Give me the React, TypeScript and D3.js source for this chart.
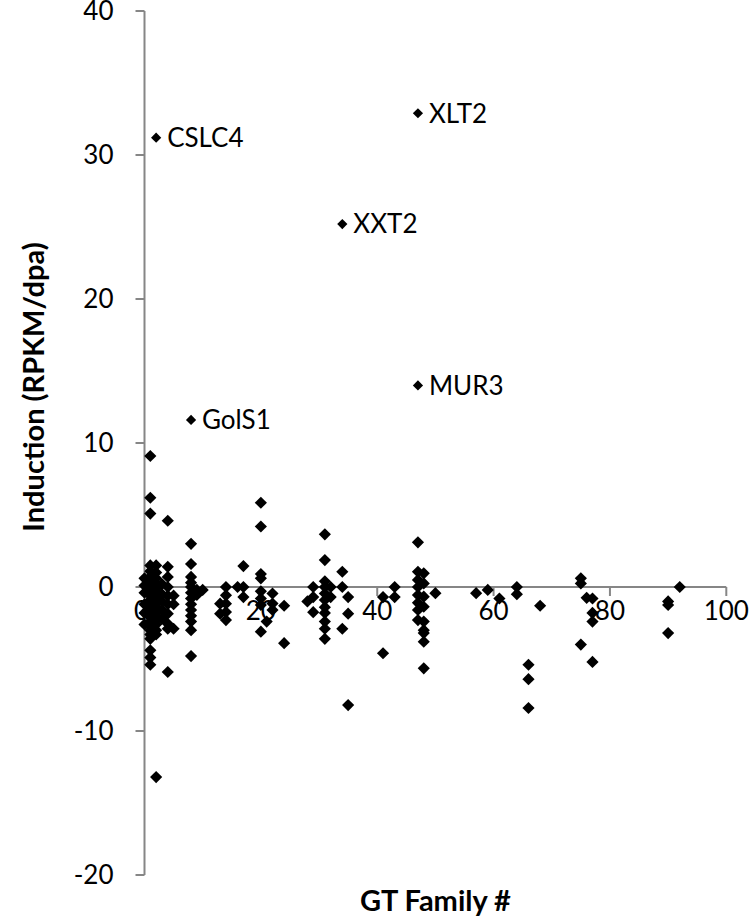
import React from "react";
import * as d3 from "d3";

// GT family number for every gene (x) and its induction in RPKM/dpa (y)
const gtFamily = [
  0, 0, 0, 0, 0, 0,
  1, 1, 1, 1, 1, 1, 1, 1, 1, 1, 1, 1, 1, 1, 1, 1, 1, 1, 1, 1, 1, 1, 1,
  2, 2, 2, 2, 2, 2, 2, 2, 2, 2, 2, 2, 2, 2, 2, 2,
  3, 3, 3, 3, 3,
  4, 4, 4, 4, 4, 4, 4, 4, 4, 4,
  5, 5, 5,
  8, 8, 8, 8, 8, 8, 8, 8, 8, 8, 8, 8, 8,
  9, 9, 10, 13, 13,
  14, 14, 14, 14, 14,
  16, 17, 17, 17,
  20, 20, 20, 20, 20, 20, 20, 20,
  21, 22, 22, 22, 24, 24, 28, 29, 29, 29,
  31, 31, 31, 31, 31, 31, 31, 31, 31, 31, 31,
  32, 32, 34, 34, 34, 35, 35, 35,
  41, 41, 43, 43,
  47, 47, 47, 47, 47, 47, 47, 47,
  48, 48, 48, 48, 48, 48, 48, 48, 48,
  50, 57, 59, 61, 64, 64, 66, 66, 66, 68,
  75, 75, 75, 76, 77, 77, 77, 77,
  90, 90, 90, 92,
];
const induction = [
  0.6, 0.1, -0.4, -1.2, -1.8, -2.6,
  9.1, 6.2, 5.1, 1.5, 1.1, 0.7, 0.3, 0.0, -0.3, -0.6, -0.9, -1.2, -1.5, -1.8, -2.1, -2.4, -2.7, -3.0, -3.3, -3.6, -4.4, -4.9, -5.4,
  1.5, 1.0, 0.6, 0.2, -0.1, -0.4, -0.8, -1.1, -1.4, -1.7, -2.0, -2.3, -2.6, -3.0, -3.3, -13.2,
  0.2, -0.5, -1.0, -1.6, -2.2,
  4.6, 1.4, 0.7, 0.0, -0.6, -1.2, -1.85, -2.55, -2.9, -5.9,
  -1.2, -2.9, -0.6,
  3.0, 1.6, 0.7, 0.3, 0.0, -0.4, -0.8, -1.2, -1.6, -2.0, -2.4, -3.0, -4.8,
  -0.55, -0.2, -0.2, -1.16, -1.85,
  0.0, -0.58, -1.16, -1.74, -2.3,
  0.0, 1.45, 0.0, -0.7,
  5.85, 4.2, 0.9, 0.6, -0.3, -0.8, -1.25, -3.1,
  -2.4, -0.45, -1.15, -1.6, -1.3, -3.9, -1.0, 0.0, -0.7, -1.75,
  3.66, 1.87, 0.4, 0.0, -0.45, -0.9, -1.4, -1.8, -2.4, -2.9, -3.6,
  0.0, -0.7, 1.06, 0.0, -2.9, -0.7, -1.85, -8.2,
  -0.7, -4.6, 0.0, -0.7,
  3.1, 1.06, 0.49, 0.0, -0.56, -1.1, -1.6, -2.3,
  0.95, 0.25, -0.67, -1.37, -2.4, -3.0, -3.2, -3.8, -5.65,
  -0.43, -0.43, -0.2, -0.8, 0.0, -0.5, -5.4, -6.4, -8.4, -1.3,
  0.6, 0.25, -4.0, -0.75, -0.8, -1.8, -2.4, -5.2,
  -1.0, -1.25, -3.2, 0.0,
];

// annotated genes
const labelNames = ["CSLC4", "XLT2", "XXT2", "MUR3", "GolS1"];
const labelFamily = [2, 47, 34, 47, 8];
const labelInduction = [31.2, 32.9, 25.2, 14.0, 11.6];

const xTicks = [0, 20, 40, 60, 80, 100];
const yTicks = [-20, -10, 0, 10, 20, 30, 40];

export default function App() {
  const W = 750;
  const H = 923;
  const x = d3.scaleLinear().domain([0, 100]).range([144.5, 726.3]);
  const y = d3.scaleLinear().domain([-20, 40]).range([875, 11]);
  const axisColor = "#868686";
  const font = "Lato, 'Open Sans', sans-serif";
  const tickSize = 26;
  const bigMarker = d3.symbol().type(d3.symbolSquare).size(74)() as string;
  const smallMarker = d3.symbol().type(d3.symbolSquare).size(52)() as string;
  const y0 = y(0);
  const xLeft = x(0);

  return (
    <svg
      width={W}
      height={H}
      viewBox={`0 0 ${W} ${H}`}
      style={{ position: "absolute", left: 0, top: 0, background: "#fff" }}
    >
      {/* Y axis */}
      <line x1={xLeft} x2={xLeft} y1={y(40)} y2={y(-20)} stroke={axisColor} strokeWidth={2} />
      {yTicks.map((t) => (
        <g key={"yt" + t}>
          <line x1={xLeft - 9} x2={xLeft} y1={y(t)} y2={y(t)} stroke={axisColor} strokeWidth={2} />
          <text
            x={xLeft - 31}
            y={y(t) + tickSize * 0.36}
            textAnchor="end"
            fontFamily={font}
            fontSize={tickSize}
            fill="#000"
          >
            {t}
          </text>
        </g>
      ))}
      {/* X axis */}
      <line x1={xLeft} x2={x(100)} y1={y0} y2={y0} stroke={axisColor} strokeWidth={2} />
      {xTicks.map((t) => (
        <line key={"xt" + t} x1={x(t)} x2={x(t)} y1={y0} y2={y0 + 9} stroke={axisColor} strokeWidth={2} />
      ))}
      {/* points */}
      {gtFamily.map((f, i) => (
        <path
          key={"p" + i}
          d={bigMarker}
          transform={`translate(${x(f)},${y(induction[i])}) rotate(45)`}
          fill="#000"
        />
      ))}
      {labelNames.map((n, i) => (
        <g key={"l" + n}>
          <path
            d={smallMarker}
            transform={`translate(${x(labelFamily[i])},${y(labelInduction[i])}) rotate(45)`}
            fill="#000"
          />
          <text
            x={x(labelFamily[i]) + 11}
            y={y(labelInduction[i]) + 26 * 0.36}
            fontFamily={font}
            fontSize={26}
            fill="#000"
          >
            {n}
          </text>
        </g>
      ))}
      {/* x tick labels drawn above points like the original */}
      {xTicks.map((t) => (
        <text
          key={"xl" + t}
          x={x(t) - (t === 0 ? 3 : 0)}
          y={y0 + 33}
          textAnchor="middle"
          fontFamily={font}
          fontSize={tickSize}
          fill="#000"
        >
          {t}
        </text>
      ))}
      {/* axis titles */}
      <text
        transform={`translate(44,${(y(40) + y(-20)) / 2 - 56}) rotate(-90)`}
        textAnchor="middle"
        fontFamily={font}
        fontWeight="bold"
        fontSize={29}
        fill="#000"
      >
        Induction (RPKM/dpa)
      </text>
      <text
        x={(x(0) + x(100)) / 2}
        y={911}
        textAnchor="middle"
        fontFamily={font}
        fontWeight="bold"
        fontSize={29}
        fill="#000"
      >
        GT Family #
      </text>
    </svg>
  );
}
